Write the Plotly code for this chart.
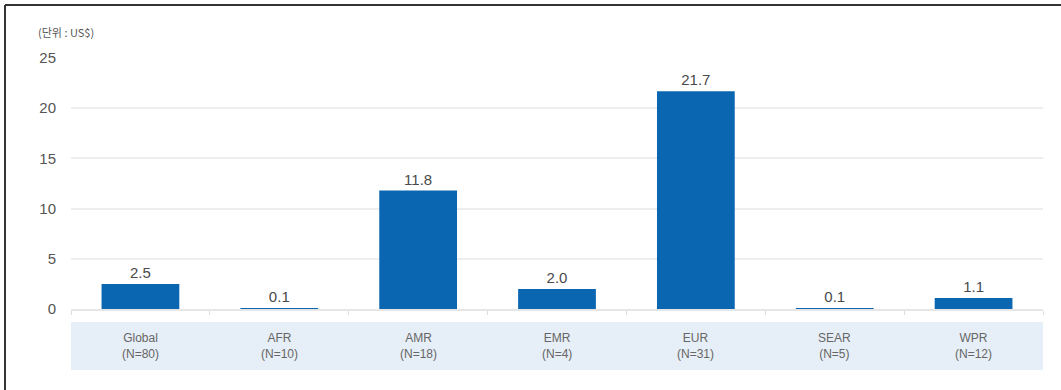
import plotly.graph_objects as go

regions = ["Global", "AFR", "AMR", "EMR", "EUR", "SEAR", "WPR"]
sample_sizes = ["(N=80)", "(N=10)", "(N=18)", "(N=4)", "(N=31)", "(N=5)", "(N=12)"]
values = [2.5, 0.1, 11.8, 2.0, 21.7, 0.1, 1.1]
y_ticks = [0, 5, 10, 15, 20, 25]
unit_label = "(단위 : US$)"

W, H = 1061, 390
ML, MR, MT, MB = 71, 18, 58, 81
PW, PH = W - ML - MR, H - MT - MB


def px_x(x):
    return (x - ML) / PW


def px_y(y):
    return (H - MB - y) / PH


num_font = "Liberation Sans Narrow, Arial Narrow, Liberation Sans, sans-serif"
bar_color = "#0b66b1"

fig = go.Figure()
fig.add_trace(go.Bar(
    x=regions,
    y=values,
    marker=dict(color=bar_color, line=dict(width=0)),
    width=0.56,
    text=[f"{v:.1f}" for v in values],
    textposition="outside",
    textfont=dict(size=15, color="#4a4a4a", family=num_font),
    cliponaxis=False,
    hoverinfo="skip",
))

shapes = [
    # category label band
    dict(type="rect", xref="paper", yref="paper",
         x0=0, x1=1, y0=px_y(370), y1=px_y(322),
         fillcolor="#e6eff7", line=dict(width=0), layer="below"),
    # frame lines on the left and top
    dict(type="line", xref="paper", yref="paper",
         x0=px_x(5), x1=px_x(5), y0=px_y(5), y1=px_y(H + 2),
         line=dict(color="#333333", width=2)),
    dict(type="line", xref="paper", yref="paper",
         x0=px_x(5), x1=px_x(W + 2), y0=px_y(5), y1=px_y(5),
         line=dict(color="#333333", width=2)),
]

annotations = [
    dict(x=r, y=px_y(346), xref="x", yref="paper",
         text=f"{r}<br>{n}", showarrow=False,
         font=dict(size=12, color="#666666", family=num_font),
         xanchor="center", yanchor="middle", align="center")
    for r, n in zip(regions, sample_sizes)
]
annotations.append(dict(
    x=px_x(36), y=px_y(32), xref="paper", yref="paper",
    text=unit_label, showarrow=False,
    font=dict(size=11, color="#555555", family="Noto Sans CJK KR, sans-serif"),
    xanchor="left", yanchor="middle",
))

fig.update_layout(
    width=W, height=H,
    margin=dict(l=ML, r=MR, t=MT, b=MB, pad=0),
    paper_bgcolor="white",
    plot_bgcolor="white",
    showlegend=False,
    shapes=shapes,
    annotations=annotations,
    bargap=0.44,
    xaxis=dict(
        type="category",
        showticklabels=False,
        tickson="boundaries",
        ticks="outside",
        ticklen=4,
        tickcolor="#dddddd",
        showgrid=False,
        showline=True,
        linecolor="#e6e6e6",
        linewidth=2,
        fixedrange=True,
    ),
    yaxis=dict(
        range=[0, 25],
        tickvals=y_ticks,
        showgrid=True,
        gridcolor="#eeeeee",
        gridwidth=2,
        zeroline=False,
        showline=False,
        ticks="",
        ticklabelstandoff=14,
        tickfont=dict(size=15, color="#555555", family=num_font),
        fixedrange=True,
    ),
)

fig.write_html("out.html")
